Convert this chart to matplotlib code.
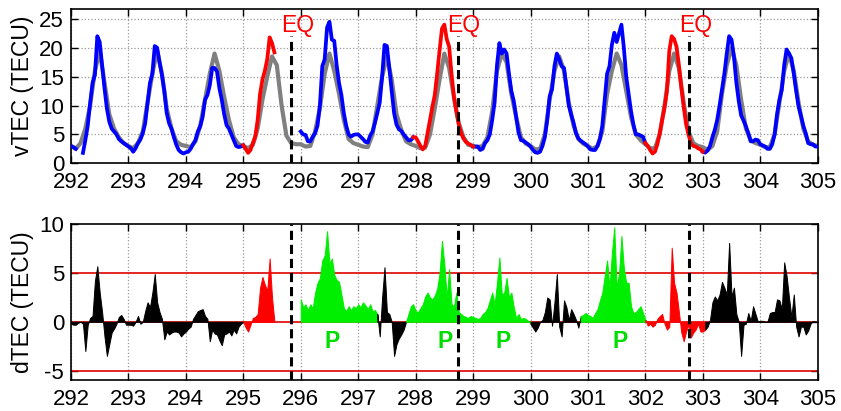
import numpy as np
import matplotlib
matplotlib.use("Agg")
import matplotlib.pyplot as plt

plt.rcParams['font.family'] = ['Liberation Sans', 'DejaVu Sans']
plt.rcParams['axes.unicode_minus'] = False

nan = np.nan
start_day = 292
obs_per_day = 24
ref_per_day = 12

# observed vTEC (hourly), TECU
obs_292 = [3.0, 2.8, 2.5, nan, nan, 1.8, 4.0, 6.5, 10.4, 13.9, 15.3, 22.0, 21.0, 17.0, 13.0, 9.5, 7.2, 6.0, 5.5, 5.0, 4.2, 3.8, 3.5, 3.2]
obs_293 = [2.9, 2.6, 2.0, 2.6, 3.5, 4.1, 5.2, 6.9, 10.5, 13.9, 15.5, 20.3, 20.0, 17.5, 15.3, 12.5, 8.7, 6.9, 6.0, 4.5, 3.2, 2.3, 1.9, 1.7]
obs_294 = [1.9, 2.0, 2.5, 3.3, 4.0, 5.5, 6.4, 8.0, 11.0, 11.8, 13.5, 16.5, 16.5, 15.9, 13.0, 11.0, 8.5, 6.6, 6.0, 5.0, 4.0, 3.0, 2.8, 2.9]
obs_295 = [3.1, 2.5, 1.8, 2.3, 3.5, 4.6, 7.5, 12.0, 14.5, 16.0, 18.0, 21.8, 20.8, 19.2, nan, nan, nan, nan, nan, nan, nan, nan, nan, nan]
obs_296 = [5.5, 5.0, 4.9, 3.8, 3.8, 4.6, 5.2, 6.5, 10.0, 16.8, 18.0, 23.5, 24.5, 21.4, 21.2, 17.0, 13.9, 11.8, 8.7, 6.5, 5.0, 4.6, 4.9, 5.0]
obs_297 = [5.0, 4.6, 4.2, 3.7, 3.6, 4.8, 5.5, 7.0, 8.7, 10.5, 15.0, 20.5, 20.3, 16.5, 12.5, 8.7, 6.7, 5.9, 5.6, 5.0, 4.5, 4.0, 4.0, 4.5]
obs_298 = [4.5, 3.8, 3.0, 2.4, 3.0, 5.2, 7.5, 9.8, 11.8, 15.5, 19.5, 23.3, 24.0, 21.5, 20.2, 15.5, 11.5, 9.0, 6.8, 5.2, 4.3, 3.7, 3.4, 3.2]
obs_299 = [2.9, 2.9, 2.9, 2.3, 2.5, 3.5, 4.0, 5.0, 7.5, 10.5, 17.0, 20.8, 19.0, 19.7, 19.0, 15.5, 12.5, 10.8, 8.1, 5.3, 4.0, 3.9, 3.6, 3.3]
obs_300 = [2.9, 2.3, 1.9, 1.8, 2.0, 3.0, 4.5, 7.5, 11.6, 12.8, 16.8, 19.0, 18.0, 16.8, 16.5, 13.3, 10.0, 8.4, 7.0, 5.2, 4.3, 3.9, 3.6, 3.3]
obs_301 = [2.9, 2.4, 2.3, 2.3, 3.0, 4.2, 6.5, 11.0, 15.5, 16.8, 20.5, 22.6, 21.0, 22.5, 24.0, 20.0, 15.0, 12.0, 9.0, 6.7, 5.0, 5.0, 4.8, 4.6]
obs_302 = [3.5, 3.0, 2.3, 1.7, 2.0, 3.3, 5.2, 7.5, 9.6, 12.5, 19.5, 22.0, 21.5, 20.2, 17.0, 13.2, 9.8, 6.8, 5.0, 3.5, 3.0, 2.9, 2.6, 2.4]
obs_303 = [2.0, 1.85, 2.2, 3.0, 4.5, 5.8, 7.5, 10.0, 12.8, 15.5, 19.0, 22.0, 21.4, 18.5, 14.0, 10.8, 8.3, 7.4, 6.4, 5.2, 3.8, 3.8, 4.1, 4.0]
obs_304 = [3.3, 3.1, 2.9, 2.5, 2.5, 3.3, 5.0, 8.5, 11.0, 12.7, 17.0, 19.7, 19.0, 18.2, 15.5, 12.5, 9.8, 8.2, 6.5, 5.2, 3.5, 3.3, 3.3, 2.9]
obs_305 = [2.9]

# reference (median) vTEC (2-hourly), TECU
ref_292 = [3.0, 2.5, 3.5, 6.0, 10.0, 16.0, 19.5, 14.0, 8.5, 6.0, 4.5, 3.5]
ref_293 = [3.0, 2.6, 3.5, 5.5, 10.5, 15.5, 19.5, 15.5, 9.5, 6.0, 3.8, 3.2]
ref_294 = [3.0, 2.8, 3.8, 6.5, 11.0, 15.5, 19.0, 16.0, 11.5, 7.5, 4.5, 3.3]
ref_295 = [3.0, 2.6, 3.2, 6.0, 11.0, 15.0, 18.5, 17.0, 10.0, 4.8, 3.5, 3.3]
ref_296 = [3.3, 2.9, 3.0, 5.5, 9.5, 15.5, 19.0, 16.0, 12.0, 7.5, 4.2, 3.5]
ref_297 = [3.2, 2.9, 2.8, 5.0, 10.0, 15.0, 18.5, 14.5, 8.5, 5.8, 3.8, 3.3]
ref_298 = [3.0, 2.6, 2.7, 5.0, 9.5, 14.5, 19.0, 16.5, 11.5, 7.0, 4.5, 3.2]
ref_299 = [3.0, 2.8, 3.0, 4.5, 9.0, 16.0, 19.0, 17.5, 12.0, 8.0, 4.5, 3.4]
ref_300 = [3.0, 2.4, 2.5, 5.0, 11.0, 16.0, 18.5, 16.0, 10.5, 6.5, 4.2, 3.4]
ref_301 = [3.0, 2.5, 3.0, 5.5, 12.0, 16.0, 19.0, 17.0, 12.5, 8.0, 5.0, 4.0]
ref_302 = [3.3, 2.6, 2.6, 5.0, 10.0, 16.0, 19.0, 16.5, 10.5, 5.5, 3.5, 3.0]
ref_303 = [2.8, 2.3, 3.0, 5.5, 12.0, 17.0, 20.0, 17.0, 11.0, 6.0, 4.0, 3.5]
ref_304 = [3.2, 2.8, 2.8, 5.0, 10.5, 16.0, 19.0, 16.0, 10.5, 6.0, 3.8, 3.2]
ref_305 = [3.0]

# dTEC (hourly), TECU
d_292 = [-0.2, -0.3, -0.3, -0.1, 0.0, -0.2, -3.0, -0.3, 0.4, 0.6, 4.2, 5.7, 3.0, 1.0, -1.5, -3.5, -2.3, -1.1, -0.7, -0.2, 0.5, 0.7, 0.3, -0.3]
d_293 = [-0.3, -0.3, -0.4, 0.0, 0.6, -0.2, 0.0, 1.1, 2.0, 1.5, 3.0, 4.9, 2.0, 1.0, 0.3, -1.8, -1.0, -1.3, -1.1, -1.0, -1.0, -1.1, -1.5, -1.2]
d_294 = [-1.0, -0.7, -0.5, 0.3, 0.7, 1.1, 1.2, 1.3, 0.6, 0.3, -2.0, -0.8, -1.2, -1.3, -1.9, -2.4, -1.3, -1.2, -1.0, -1.4, -0.8, -1.2, -0.5, -0.2]
d_295 = [0.0, -0.6, -1.0, -0.3, 0.4, 0.5, 0.8, 3.5, 4.6, 3.8, 3.2, 6.5, 2.5, 0.0, nan, nan, nan, nan, nan, nan, nan, nan, nan, nan]
d_296 = [2.3, 1.5, 1.8, 1.2, 1.8, 1.4, 3.0, 4.0, 4.5, 6.3, 6.8, 9.3, 6.0, 6.5, 4.8, 4.3, 4.1, 2.8, 1.4, 1.1, 1.6, 1.2, 1.6, 1.4]
d_297 = [1.8, 1.5, 2.0, 1.7, 1.3, 1.8, 1.1, 1.2, 0.8, -1.5, 2.5, 5.6, 1.0, 0.8, 0.0, -3.5, -2.3, -1.7, -1.3, -0.8, 0.0, 0.8, 1.6, 1.8]
d_298 = [1.1, 1.0, 1.4, 1.8, 2.6, 3.0, 2.5, 2.3, 2.7, 3.4, 5.0, 8.3, 5.9, 2.5, 5.4, 1.8, 1.6, 3.0, 1.0, 0.8, 0.6, 0.5, 0.4, 0.6]
d_299 = [0.5, 0.4, 0.3, 0.4, 0.8, 1.0, 1.4, 2.2, 3.0, 1.8, 4.0, 6.6, 2.8, 3.0, 4.5, 2.5, 3.0, 1.5, 0.4, 0.8, 0.3, 0.4, 0.3, 0.1]
d_300 = [-0.2, -0.6, -1.0, -0.6, 0.0, 0.2, 1.0, 2.5, 2.3, -0.4, 2.0, 4.9, -0.5, -1.5, 2.2, 1.5, 0.2, 1.3, 0.8, 0.2, -0.6, 0.6, 0.7, 0.9]
d_301 = [0.7, 0.6, 0.4, 0.9, 1.3, 2.2, 3.0, 4.7, 6.3, 3.5, 7.0, 9.7, 3.5, 5.0, 8.8, 5.5, 4.0, 4.0, 1.6, 0.9, 1.0, 1.3, 1.6, 0.9]
d_302 = [0.2, -0.4, -0.2, -0.5, -0.3, 0.3, 0.6, 0.8, -0.2, -0.8, -0.5, 7.6, 4.0, 3.0, 1.0, -1.1, -2.0, -1.0, -0.3, -1.6, -1.1, -0.8, -0.2, -1.0]
d_303 = [-1.0, -0.8, -0.5, 0.2, 2.0, 2.6, 2.2, 2.8, 4.1, 3.5, 2.8, 8.1, 2.6, 3.5, 0.8, 0.0, -3.5, -0.3, -0.2, 0.9, 0.1, 1.6, 0.8, 0.0]
d_304 = [0.1, 0.1, 0.0, 0.0, 0.9, 1.0, 1.0, 2.3, 2.2, 1.3, 6.1, 4.7, 2.5, 0.5, 2.8, -0.5, -1.5, -0.5, -0.5, -1.3, -0.9, -0.2, 0.1, 0.0]
d_305 = [0.0]

eq_days = [295.83, 298.73, 302.76]
red_periods = [(295.0, 295.5417), (297.958, 299.0), (302.0, 303.0)]
dtec_segments = [(292.0, 295.0, 'black'), (295.0, 295.5417, 'red'),
                 (296.0, 297.3334, 'green'), (297.3334, 297.8334, 'black'),
                 (297.8334, 300.0, 'green'), (300.0, 300.875, 'black'),
                 (300.875, 302.0, 'green'), (302.0, 303.0417, 'red'),
                 (303.0417, 305.0, 'black')]
p_days = [296.55, 298.51, 299.53, 301.56]
xticks = list(range(292, 306))

colors = {'black': '#000000', 'red': '#ff0000', 'green': '#00ee00'}

obs = np.array(obs_292 + obs_293 + obs_294 + obs_295 + obs_296 + obs_297 + obs_298 +
               obs_299 + obs_300 + obs_301 + obs_302 + obs_303 + obs_304 + obs_305)
ref = np.array(ref_292 + ref_293 + ref_294 + ref_295 + ref_296 + ref_297 + ref_298 +
               ref_299 + ref_300 + ref_301 + ref_302 + ref_303 + ref_304 + ref_305)
dtec = np.array(d_292 + d_293 + d_294 + d_295 + d_296 + d_297 + d_298 +
                d_299 + d_300 + d_301 + d_302 + d_303 + d_304 + d_305)

t_obs = start_day + np.arange(len(obs)) / obs_per_day
t_ref = start_day + np.arange(len(ref)) / ref_per_day
eps = 1e-3

fig = plt.figure(figsize=(8.41, 4.11), dpi=100)
ax1 = fig.add_axes([0.0844, 0.6027, 0.8879, 0.3753])
ax2 = fig.add_axes([0.0844, 0.0747, 0.8879, 0.3796])

fs = 16

# ---------- top panel ----------
ax1.plot(t_ref, ref, color='#808080', lw=3.0, zorder=2, solid_capstyle='round')
blue = obs.copy()
red = np.full_like(obs, np.nan)
for a, b in red_periods:
    inside = (t_obs > a + eps) & (t_obs < b - eps)
    blue[inside] = np.nan
    m = (t_obs >= a - eps) & (t_obs <= b + eps)
    red[m] = obs[m]
ax1.plot(t_obs, blue, color='#0000ff', lw=2.7, zorder=3)
ax1.plot(t_obs, red, color='#ff0000', lw=2.7, zorder=4)
for e in eq_days:
    ax1.plot([e, e], [0, 22], color='black', lw=2.2, ls=(0, (3, 1.6)), zorder=5)
    ax1.text(e + 0.11, 22.7, 'EQ', color='#ff0000', fontsize=fs + 0.5, ha='center', va='baseline', zorder=6)

ax1.set_xlim(292, 305)
ax1.set_ylim(0, 26.7)
ax1.set_xticks(xticks)
ax1.set_yticks([0, 5, 10, 15, 20, 25])
ax1.grid(True, linestyle=':', color='#9a9a9a', lw=0.9)
ax1.set_axisbelow(True)
ax1.set_ylabel('vTEC (TECU)', fontsize=fs + 0.5, labelpad=4)

# ---------- bottom panel ----------
for yv in (-5, 0, 5):
    ax2.axhline(yv, color='#e00000', lw=1.2, zorder=1)
for a, b, c in dtec_segments:
    m = (t_obs >= a - eps) & (t_obs <= b + eps)
    ax2.fill_between(t_obs[m], 0, dtec[m], facecolor=colors[c], edgecolor=colors[c], lw=0.7, zorder=3)
for e in eq_days:
    ax2.axvline(e, color='black', lw=2.2, ls=(0, (3, 1.6)), zorder=5)
for p in p_days:
    ax2.text(p, -2.0, 'P', color='#00dd00', fontsize=fs + 0.5, fontweight='bold', ha='center', va='center', zorder=6)

ax2.set_xlim(292, 305)
ax2.set_ylim(-6, 10)
ax2.set_xticks(xticks)
ax2.set_yticks([-5, 0, 5, 10])
ax2.xaxis.grid(True, linestyle=':', color='#9a9a9a', lw=0.9)
ax2.set_axisbelow(True)
ax2.set_ylabel('dTEC (TECU)', fontsize=fs + 0.5, labelpad=4)

for ax in (ax1, ax2):
    ax.tick_params(direction='in', top=True, right=True, length=5, width=1.0, labelsize=fs)
    ax.tick_params(axis='x', pad=6.5)
    ax.tick_params(axis='y', pad=5)
    for s in ax.spines.values():
        s.set_linewidth(1.2)

fig.savefig('out.png', dpi=100)
